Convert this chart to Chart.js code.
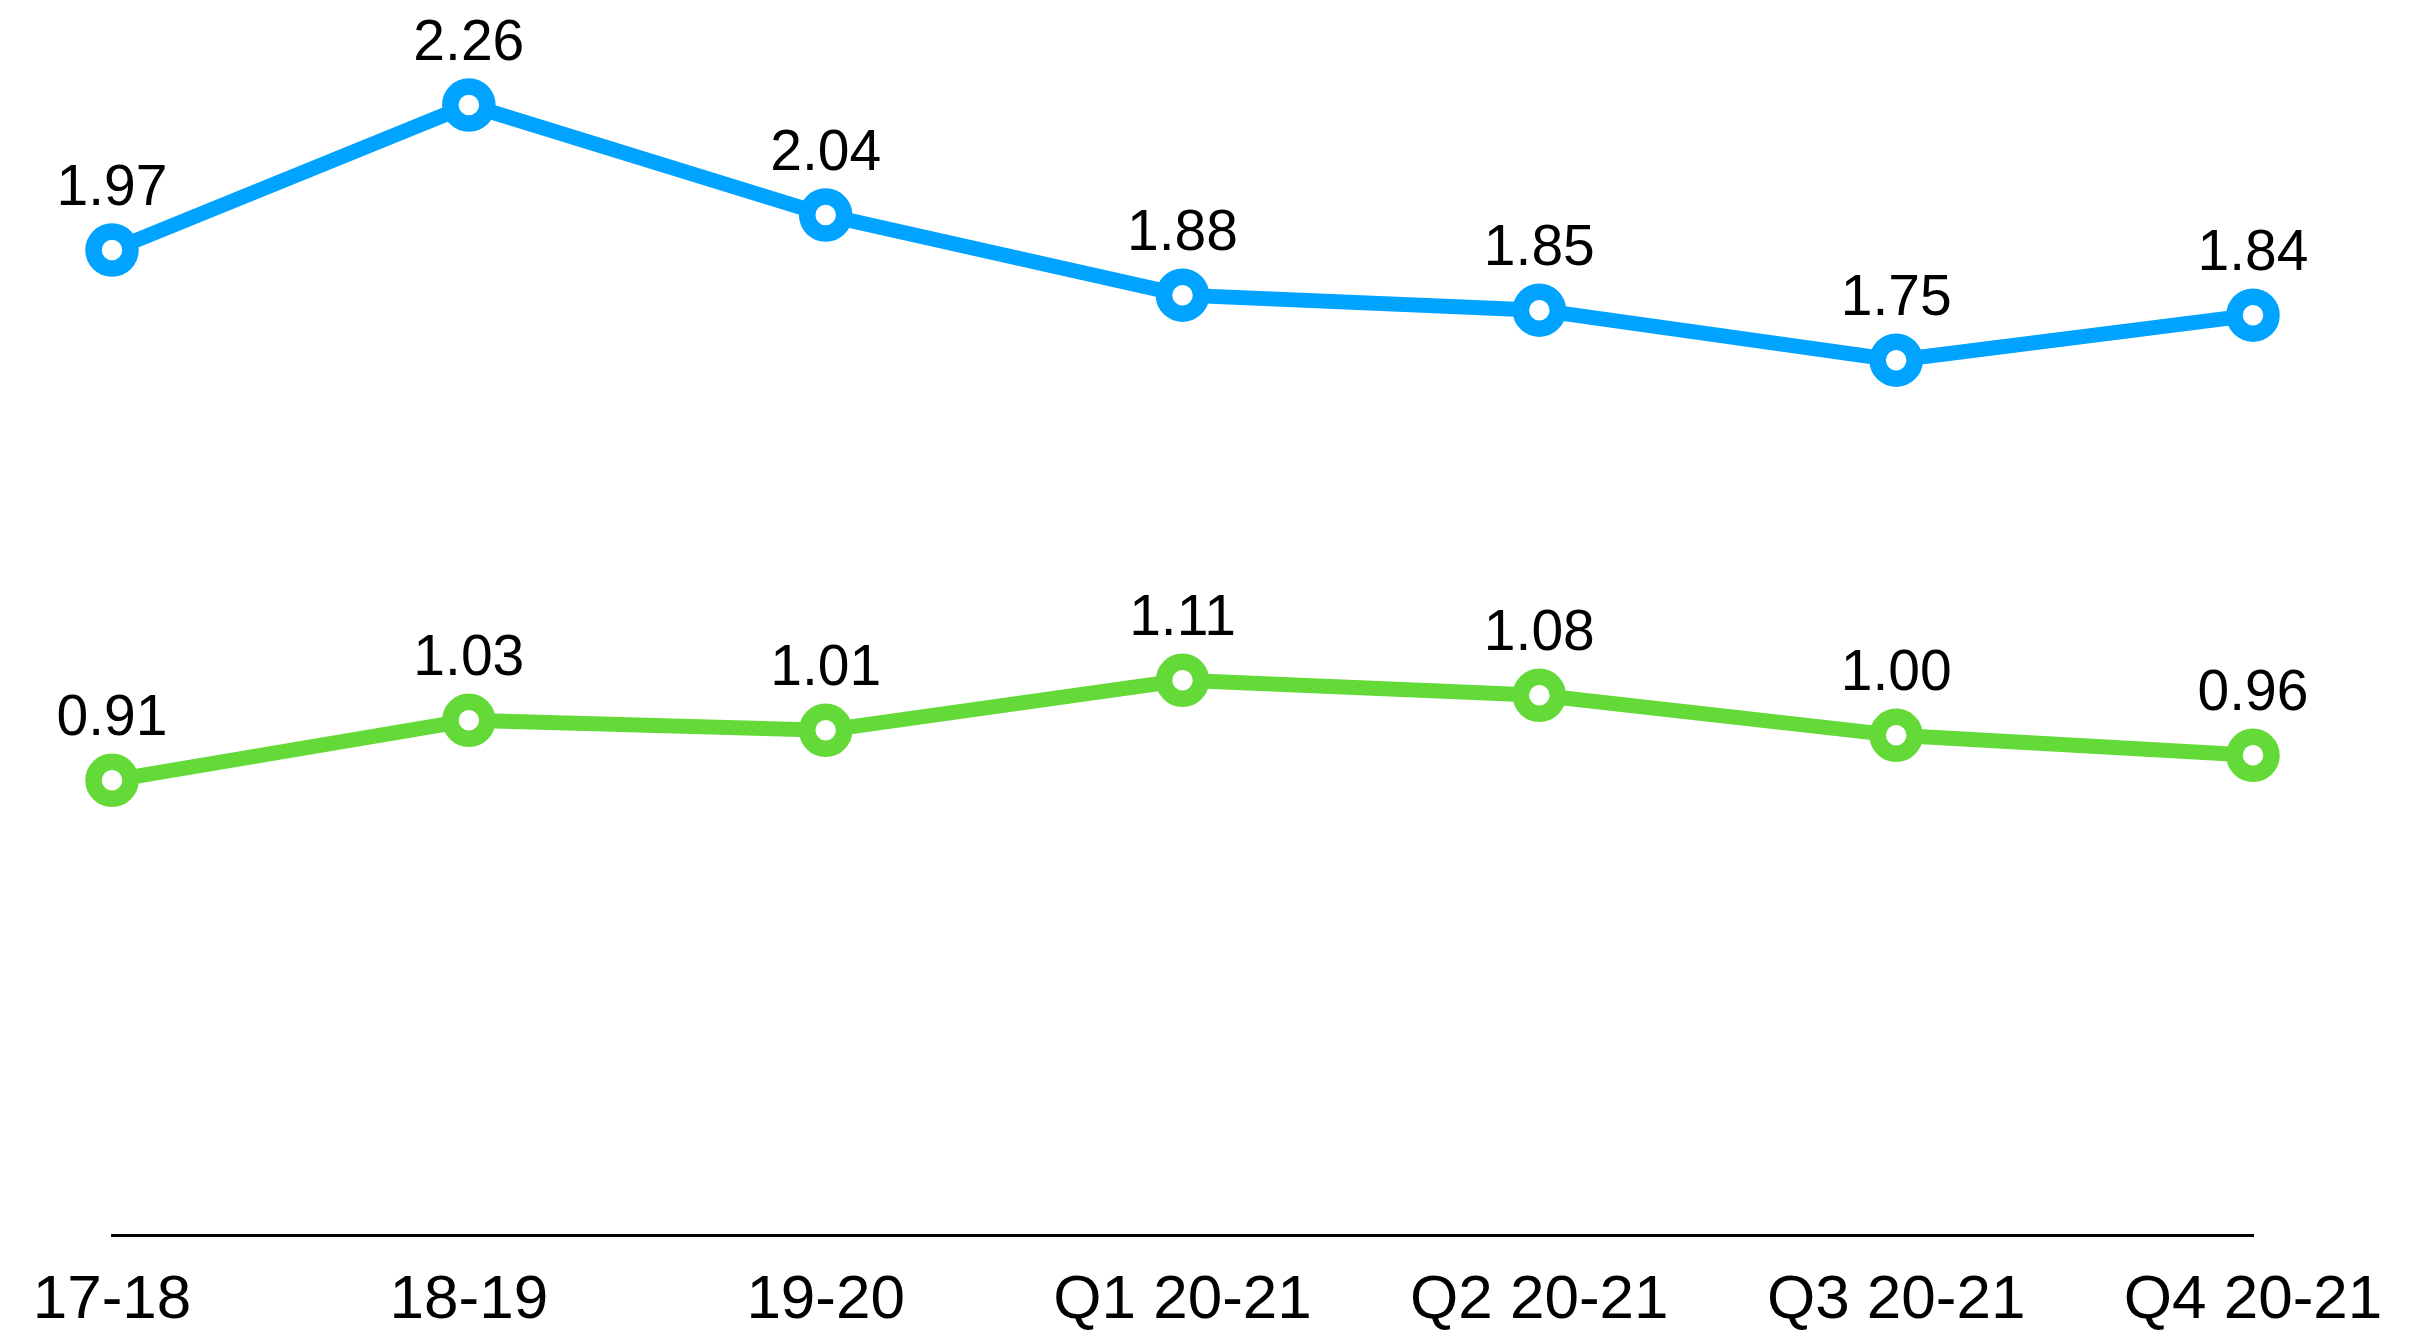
<!DOCTYPE html>
<html>
<head>
<meta charset="utf-8">
<script src="https://cdn.jsdelivr.net/npm/chart.js@4"></script>
<style>
  body { margin: 0; background: #fff; }
  canvas { display: block; }
</style>
</head>
<body>
<canvas id="myChart" width="2433" height="1336"></canvas>
<script>
// setup
const periods = ['17-18', '18-19', '19-20', 'Q1 20-21', 'Q2 20-21', 'Q3 20-21', 'Q4 20-21'];
const blueValues = [1.97, 2.26, 2.04, 1.88, 1.85, 1.75, 1.84];
const greenValues = [0.91, 1.03, 1.01, 1.11, 1.08, 1.00, 0.96];

const BLUE = '#00A3FF';
const GREEN = '#64DA38';
const FONT = '"Liberation Sans", Arial, Helvetica, sans-serif';

// values above the points
const valueLabels = {
  id: 'valueLabels',
  afterDatasetsDraw(chart) {
    const c = chart.ctx;
    c.save();
    c.font = '57px ' + FONT;
    c.fillStyle = '#000';
    c.textAlign = 'center';
    c.textBaseline = 'alphabetic';
    chart.data.datasets.forEach((ds, di) => {
      const meta = chart.getDatasetMeta(di);
      meta.data.forEach((pt, i) => {
        c.fillText(ds.data[i].toFixed(2), pt.x, pt.y - 45);
      });
    });
    c.restore();
  }
};

function series(values, color) {
  return {
    data: values,
    borderColor: color,
    borderWidth: 15,
    pointRadius: 18.5,
    pointBorderWidth: 16.5,
    pointBackgroundColor: '#fff',
    pointBorderColor: color,
    tension: 0
  };
}

const config = {
  type: 'line',
  data: {
    labels: periods,
    datasets: [series(blueValues, BLUE), series(greenValues, GREEN)]
  },
  options: {
    responsive: false,
    animation: false,
    layout: { padding: { left: 112, right: 180, top: 34, bottom: -30 } },
    plugins: { legend: { display: false }, tooltip: { enabled: false } },
    scales: {
      x: {
        offset: false,
        grid: { display: false, drawTicks: false },
        border: { display: true, color: '#000', width: 3 },
        ticks: { color: '#000', padding: 28, font: { size: 62, family: FONT } }
      },
      y: {
        display: false,
        min: 0,
        max: 2.4
      }
    }
  },
  plugins: [valueLabels]
};

const myChart = new Chart(document.getElementById('myChart'), config);
</script>
</body>
</html>
